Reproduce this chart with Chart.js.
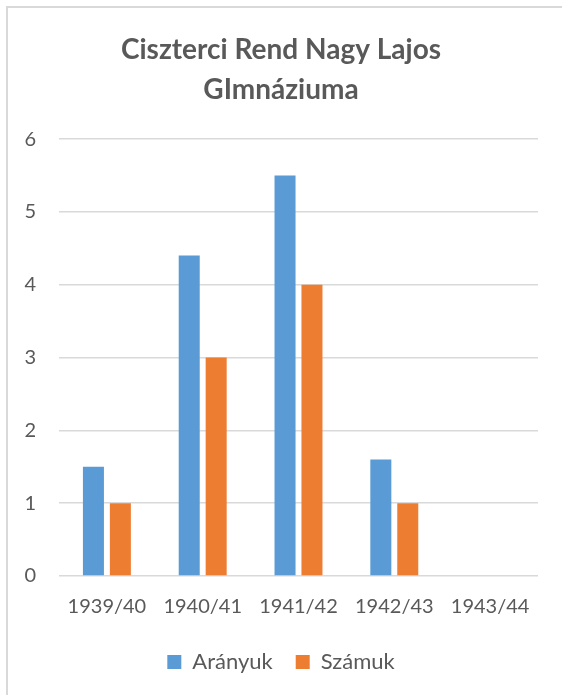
<!DOCTYPE html>
<html>
<head>
<meta charset="utf-8">
<script src="https://cdn.jsdelivr.net/npm/chart.js@4"></script>
<style>
  body { margin: 0; background: #fff; }
  #frame { position: absolute; left: 6px; top: 6px; width: 600px; height: 720px; border: 2px solid #D9D9D9; box-sizing: border-box; }
  #chart1 { position: absolute; left: 0; top: 0; }
</style>
</head>
<body>
<div id="frame"></div>
<canvas id="chart1"></canvas>
<script>
var labels = ["1939/40", "1940/41", "1941/42", "1942/43", "1943/44"];
var aranyuk = [1.5, 4.4, 5.5, 1.6, 0];
var szamuk = [1, 3, 4, 1, 0];
var yTicks = [0, 1, 2, 3, 4, 5, 6];

var ctx = document.getElementById("chart1").getContext("2d");
ctx.canvas.width = 562;
ctx.canvas.height = 695;
Chart.defaults.font.family = "Lato, 'Noto Sans', sans-serif";
Chart.defaults.color = "#595959";

new Chart(ctx, {
	type: 'bar',
	data: {
		labels: labels,
		datasets: [{
			label: "Arányuk",
			data: aranyuk,
			backgroundColor: "#5B9BD5",
			categoryPercentage: 0.5625,
			barPercentage: 0.78
		}, {
			label: "Számuk",
			data: szamuk,
			backgroundColor: "#ED7D31",
			categoryPercentage: 0.5625,
			barPercentage: 0.78
		}]
	},
	options: {
		responsive: false,
		animation: false,
		layout: { padding: { left: 24, right: 24, top: 30, bottom: 12 } },
		plugins: {
			title: {
				display: true,
				text: ["Ciszterci Rend Nagy Lajos", "GImnáziuma"],
				font: { size: 28, weight: 'bold', lineHeight: 1.43 },
				color: "#595959",
				padding: { top: 0, bottom: 29 }
			},
			legend: {
				position: 'bottom',
				labels: {
					boxWidth: 14,
					boxHeight: 14,
					font: { size: 22 },
					padding: 23
				}
			},
			tooltip: { enabled: false }
		},
		scales: {
			x: {
				grid: { display: false },
				border: { display: false },
				ticks: { font: { size: 20 }, padding: 11 },
				afterFit: function (s) { s.height = 52; }
			},
			y: {
				min: 0,
				max: 6,
				afterBuildTicks: function (s) { s.ticks = yTicks.map(function (v) { return { value: v }; }); },
				grid: { color: "#D9D9D9", lineWidth: 1.5, drawTicks: false },
				border: { display: false },
				ticks: { font: { size: 20 }, padding: 23 },
				afterFit: function (s) { s.width = 35; }
			}
		}
	}
});
</script>
</body>
</html>
